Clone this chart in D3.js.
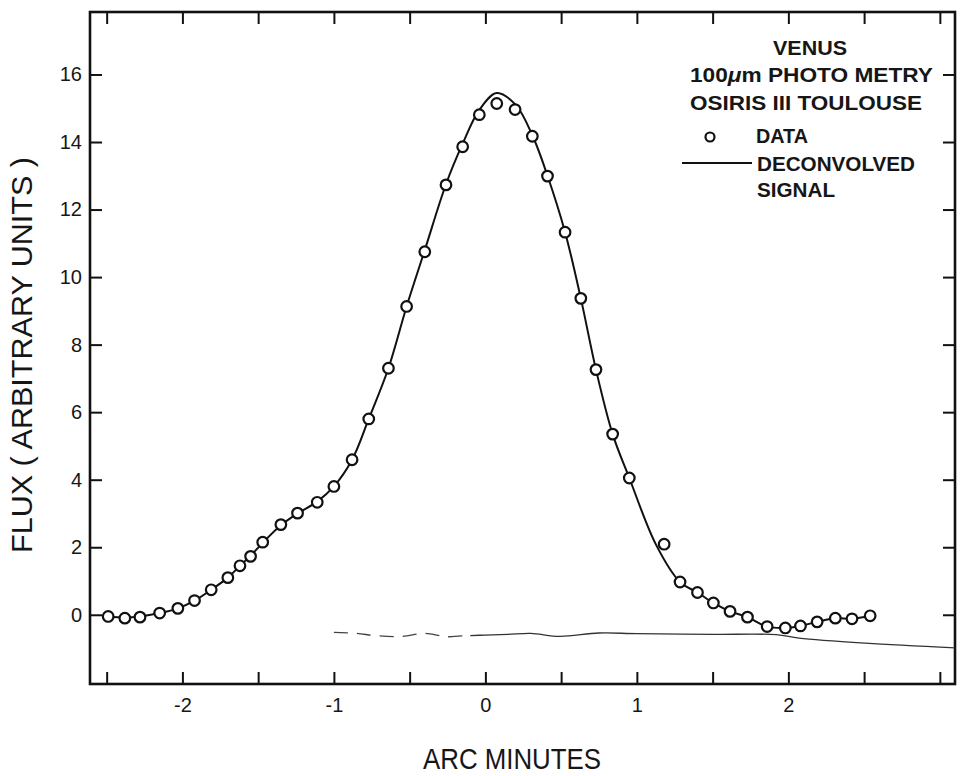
<!DOCTYPE html>
<html>
<head>
<meta charset="utf-8">
<script src="https://cdn.jsdelivr.net/npm/d3@7"></script>
<style>
  body { margin: 0; background: #fff; }
  svg { display: block; }
  text { font-family: "Liberation Sans", Arial, sans-serif; fill: #161616; }
</style>
</head>
<body>
<div id="wrapper"></div>
<script>
// data (arc minutes / arbitrary flux)
const dataX = [-2.49, -2.38, -2.28, -2.15, -2.03, -1.92, -1.81, -1.70, -1.62, -1.55, -1.47, -1.35, -1.24, -1.11, -1.00, -0.88, -0.77,
               -0.64, -0.52, -0.40, -0.26, -0.15, -0.04, 0.075, 0.196, 0.31, 0.41, 0.526, 0.63, 0.73, 0.84, 0.95,
               1.18, 1.285, 1.40, 1.505, 1.615, 1.73, 1.86, 1.98, 2.08, 2.19, 2.31, 2.42, 2.54]
const dataY = [-0.05, -0.10, -0.07, 0.05, 0.19, 0.42, 0.74, 1.10, 1.45, 1.73, 2.15, 2.67, 3.01, 3.33, 3.80, 4.59, 5.80,
               7.30, 9.13, 10.75, 12.73, 13.86, 14.81, 15.14, 14.96, 14.17, 12.99, 11.33, 9.37, 7.26, 5.35, 4.05,
               2.09, 0.97, 0.66, 0.35, 0.10, -0.07, -0.35, -0.39, -0.33, -0.21, -0.10, -0.12, -0.03]

// deconvolved signal (solid curve)
const curveX = [-2.49, -2.38, -2.28, -2.15, -2.03, -1.92, -1.81, -1.70, -1.62, -1.55, -1.47, -1.35, -1.24, -1.11, -1.00, -0.88, -0.77,
                -0.64, -0.52, -0.40, -0.26, -0.15, -0.04, 0.075, 0.20, 0.31, 0.41, 0.526, 0.63, 0.73, 0.84, 0.95,
                1.127, 1.285, 1.40, 1.505, 1.615, 1.73, 1.86, 1.98, 2.08, 2.19, 2.31, 2.42, 2.54]
const curveY = [-0.05, -0.08, -0.05, 0.05, 0.19, 0.42, 0.74, 1.10, 1.45, 1.75, 2.13, 2.65, 3.00, 3.35, 3.80, 4.59, 5.80,
                7.30, 9.13, 10.80, 12.75, 13.95, 14.95, 15.45, 15.10, 14.20, 13.00, 11.33, 9.37, 7.26, 5.35, 4.05,
                2.07, 0.97, 0.66, 0.35, 0.10, -0.07, -0.35, -0.39, -0.33, -0.21, -0.10, -0.12, -0.03]

// faint baseline trace under the scan
const baseDashX = [-1.00, -0.85, -0.72, -0.55, -0.40, -0.25, -0.10]
const baseDashY = [-0.52, -0.55, -0.62, -0.64, -0.55, -0.65, -0.60]
const baseX = [-0.10, 0.00, 0.15, 0.30, 0.49, 0.75, 1.00, 1.50, 1.92, 2.07, 2.51, 3.10]
const baseY = [-0.62, -0.60, -0.58, -0.55, -0.64, -0.54, -0.56, -0.58, -0.59, -0.69, -0.84, -0.98]

const xTicks = [-2.5, -2, -1.5, -1, -0.5, 0, 0.5, 1, 1.5, 2, 2.5, 3]
const xLabels = [-2, -1, 0, 1, 2]
const yTicks = [0, 2, 4, 6, 8, 10, 12, 14, 16]

const legendTitle = ["VENUS", "100μm PHOTO METRY", "OSIRIS III TOULOUSE"]
const legendItems = ["DATA", "DECONVOLVED", "SIGNAL"]
const xTitle = "ARC MINUTES"
const yTitle = "FLUX ( ARBITRARY UNITS )"

const W = 964, H = 776

const svg = d3.select("#wrapper")
    .append("svg")
    .attr("width", W)
    .attr("height", H)

const x = d3.scaleLinear().domain([-2.61, 3.1]).range([90, 955])
const y = d3.scaleLinear().domain([-2.05, 17.85]).range([684, 12])

const fLeft = x.range()[0], fRight = x.range()[1]
const fTop = y.range()[1], fBottom = y.range()[0]

// axes - all ticks point inward
const fmtX = d => xLabels.includes(d) ? String(d) : ""

const gB = svg.append("g")
    .attr("transform", `translate(0,${fBottom})`)
    .call(d3.axisBottom(x).tickValues(xTicks).tickSize(-12).tickSizeOuter(0).tickPadding(14).tickFormat(fmtX))
const gT = svg.append("g")
    .attr("transform", `translate(0,${fTop})`)
    .call(d3.axisTop(x).tickValues(xTicks).tickSize(-12).tickSizeOuter(0).tickFormat(""))
const gL = svg.append("g")
    .attr("transform", `translate(${fLeft},0)`)
    .call(d3.axisLeft(y).tickValues(yTicks).tickSize(-12).tickSizeOuter(0).tickPadding(8).tickFormat(d => String(d)))
const gR = svg.append("g")
    .attr("transform", `translate(${fRight},0)`)
    .call(d3.axisRight(y).tickValues(yTicks).tickSize(-12).tickSizeOuter(0).tickFormat(""))

for (const g of [gB, gT, gL, gR]) {
    g.select(".domain").remove()
    g.selectAll(".tick line").attr("stroke", "#111").attr("stroke-width", 2)
    g.selectAll(".tick text")
        .attr("font-family", "Liberation Sans, Arial, sans-serif")
        .attr("font-size", 20)
        .attr("fill", "#161616")
}

// frame
svg.append("rect")
    .attr("x", fLeft)
    .attr("y", fTop)
    .attr("width", fRight - fLeft)
    .attr("height", fBottom - fTop)
    .attr("fill", "none")
    .attr("stroke", "#111")
    .attr("stroke-width", 2.6)

// baseline trace
const line = d3.line().x(d => x(d[0])).y(d => y(d[1]))
svg.append("path")
    .datum(baseDashX.map((d, i) => [d, baseDashY[i]]))
    .attr("d", line.curve(d3.curveCatmullRom))
    .attr("fill", "none")
    .attr("stroke", "#444")
    .attr("stroke-width", 1.3)
    .attr("stroke-dasharray", "14,9")
svg.append("path")
    .datum(baseX.map((d, i) => [d, baseY[i]]))
    .attr("d", line.curve(d3.curveCatmullRom))
    .attr("fill", "none")
    .attr("stroke", "#333")
    .attr("stroke-width", 1.3)

// deconvolved signal
svg.append("path")
    .datum(curveX.map((d, i) => [d, curveY[i]]))
    .attr("d", line.curve(d3.curveCatmullRom.alpha(0.5)))
    .attr("fill", "none")
    .attr("stroke", "#111")
    .attr("stroke-width", 2)

// data circles
svg.selectAll(".pt")
    .data(dataX.map((d, i) => ({x: d, y: dataY[i]})))
    .enter()
    .append("circle")
        .attr("class", "pt")
        .attr("cx", d => x(d.x))
        .attr("cy", d => y(d.y))
        .attr("r", 5.3)
        .attr("fill", "#fff")
        .attr("stroke", "#111")
        .attr("stroke-width", 2.2)

// legend / annotation block
const lg = svg.append("g").attr("font-size", 20).attr("font-weight", "bold")
lg.append("text").attr("x", 773).attr("y", 55).attr("textLength", 74).attr("lengthAdjust", "spacingAndGlyphs").text(legendTitle[0])
const t2 = lg.append("text").attr("x", 690).attr("y", 82).attr("textLength", 243).attr("lengthAdjust", "spacingAndGlyphs")
t2.append("tspan").text("100")
t2.append("tspan").attr("font-style", "italic").text("μ")
t2.append("tspan").text(legendTitle[1].slice(4))
lg.append("text").attr("x", 690).attr("y", 110).attr("textLength", 232).attr("lengthAdjust", "spacingAndGlyphs").text(legendTitle[2])

lg.append("circle").attr("cx", 710).attr("cy", 137).attr("r", 4.5)
    .attr("fill", "#fff").attr("stroke", "#111").attr("stroke-width", 2.2)
lg.append("text").attr("x", 756).attr("y", 143).attr("textLength", 52).attr("lengthAdjust", "spacingAndGlyphs").text(legendItems[0])
lg.append("line").attr("x1", 682).attr("x2", 752).attr("y1", 163).attr("y2", 163)
    .attr("stroke", "#111").attr("stroke-width", 2)
lg.append("text").attr("x", 757).attr("y", 171).attr("textLength", 158).attr("lengthAdjust", "spacingAndGlyphs").text(legendItems[1])
lg.append("text").attr("x", 757).attr("y", 197).attr("textLength", 78).attr("lengthAdjust", "spacingAndGlyphs").text(legendItems[2])

// axis titles
svg.append("text")
    .attr("x", 512).attr("y", 769)
    .attr("text-anchor", "middle")
    .attr("font-size", 30)
    .attr("textLength", 178).attr("lengthAdjust", "spacingAndGlyphs")
    .text(xTitle)

svg.append("text")
    .attr("transform", "translate(32,355) rotate(-90)")
    .attr("text-anchor", "middle")
    .attr("font-size", 30)
    .attr("textLength", 396).attr("lengthAdjust", "spacingAndGlyphs")
    .text(yTitle)
</script>
</body>
</html>
